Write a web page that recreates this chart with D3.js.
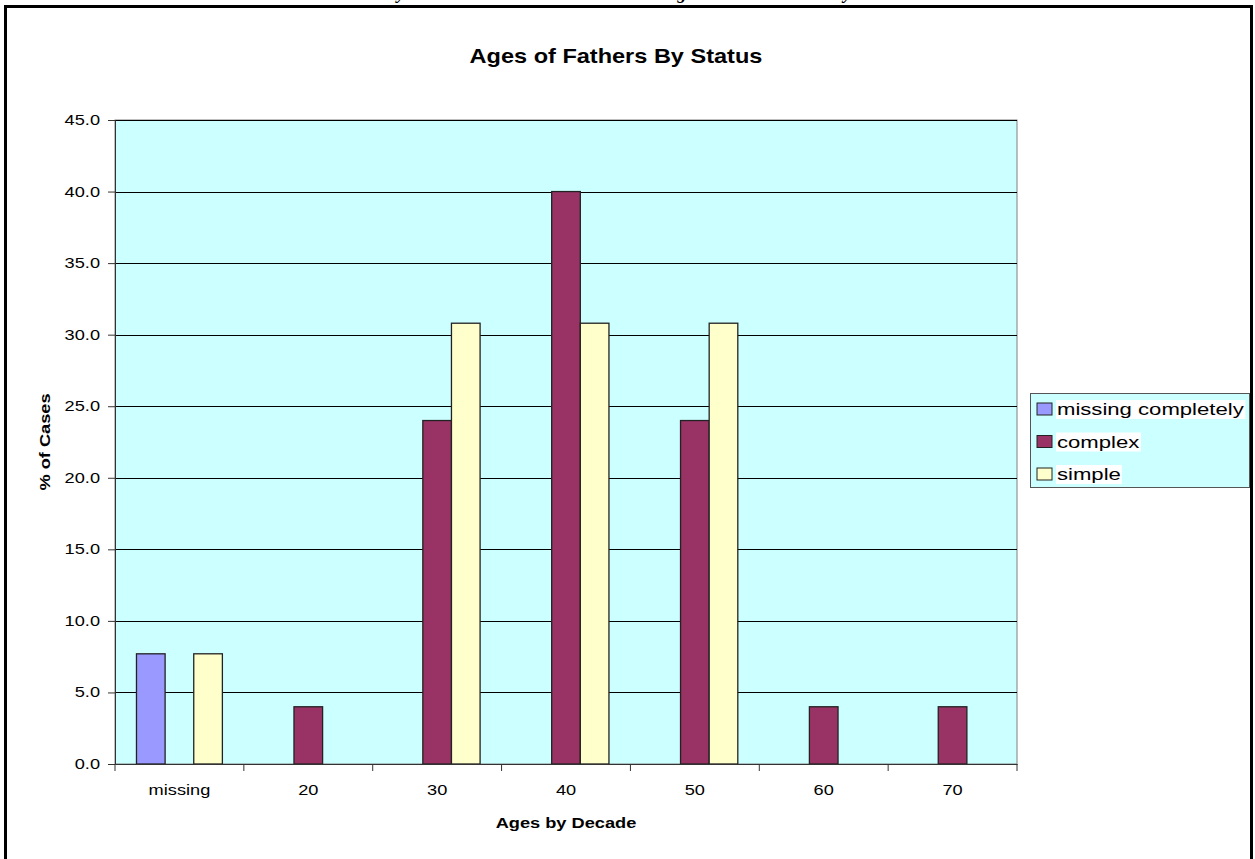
<!DOCTYPE html>
<html>
<head>
<meta charset="utf-8">
<script src="https://cdn.jsdelivr.net/npm/d3@7"></script>
<style>
  body { margin: 0; background: #fff; }
  svg { display: block; font-family: Arial, "Liberation Sans", sans-serif; }
</style>
</head>
<body>
<div id="chart"></div>
<script>
// chart data
const categories = ["missing", "20", "30", "40", "50", "60", "70"];
const seriesNames = ["missing completely", "complex", "simple"];
const missingCompletely = [7.7, 0, 0, 0, 0, 0, 0];
const complex = [0, 4.0, 24.0, 40.0, 24.0, 4.0, 4.0];
const simple = [7.7, 0, 30.8, 30.8, 30.8, 0, 0];
const yTicks = [0, 5, 10, 15, 20, 25, 30, 35, 40, 45];
const colors = ["#9999FF", "#993366", "#FFFFCC"];

const width = 1255, height = 859;
const plot = { left: 115, right: 1017, top: 120, bottom: 764 };

// the original chart was stretched sideways, so widen the text the same way
function stretch(sel, k) {
    sel.each(function () {
        const w = this.getComputedTextLength();
        d3.select(this).attr('textLength', w * k).attr('lengthAdjust', 'spacingAndGlyphs');
    });
}

const svg = d3.select('#chart').append('svg')
    .attr('width', width)
    .attr('height', height);

// caption of the page above the frame, cut off (only descenders show)
const cap = svg.append('text')
    .attr('x', 0).attr('y', -1)
    .style('font-family', '"Liberation Serif", "Times New Roman", serif')
    .style('font-weight', 'bold').style('font-style', 'italic')
    .style('font-size', '18px')
    .text('Summary Data on the Fathers in the Following Chart Then Sorted by Status');
const yPos = cap.node().getStartPositionOfChar(cap.text().indexOf('y')).x;
cap.attr('x', 397 - yPos);

// frame
svg.append('rect')
    .attr('x', 5.5).attr('y', 6.5)
    .attr('width', 1246).attr('height', 870)
    .attr('fill', '#fff').attr('stroke', '#000').attr('stroke-width', 3);

const x = d3.scaleBand().domain(categories).range([plot.left, plot.right]);
const inner = d3.scaleBand().domain(seriesNames)
    .range([0, x.bandwidth()]).paddingOuter(0.75).paddingInner(0);
const y = d3.scaleLinear().domain([0, 45]).range([plot.bottom, plot.top]);

// plot background
svg.append('rect')
    .attr('x', plot.left).attr('y', plot.top)
    .attr('width', plot.right - plot.left).attr('height', plot.bottom - plot.top)
    .attr('fill', '#CCFFFF').attr('stroke', '#808080').attr('stroke-width', 1);

// gridlines
svg.append('g').selectAll('line')
    .data(yTicks.filter(d => d > 0))
    .join('line')
    .attr('x1', plot.left).attr('x2', plot.right)
    .attr('y1', d => Math.round(y(d)) + 0.5).attr('y2', d => Math.round(y(d)) + 0.5)
    .attr('stroke', '#000').attr('stroke-width', 1);

// bars
const seriesData = [missingCompletely, complex, simple];
const bars = [];
seriesData.forEach((vals, s) => {
    vals.forEach((v, i) => {
        if (v > 0) bars.push({ cat: categories[i], series: seriesNames[s], value: v, color: colors[s] });
    });
});
svg.append('g').selectAll('rect')
    .data(bars)
    .join('rect')
    .attr('x', d => x(d.cat) + inner(d.series))
    .attr('y', d => y(d.value))
    .attr('width', inner.bandwidth())
    .attr('height', d => y(0) - y(d.value))
    .attr('fill', d => d.color)
    .attr('stroke', '#222').attr('stroke-width', 1.3);

// y axis
const yAxis = svg.append('g')
    .attr('transform', `translate(${plot.left},0)`)
    .call(d3.axisLeft(y).tickValues(yTicks).tickFormat(d3.format('.1f')).tickSizeOuter(0).tickSize(7).tickPadding(8));
yAxis.select('.domain').attr('stroke', '#333');
yAxis.selectAll('.tick line').attr('stroke', '#333');
yAxis.selectAll('text').attr('font-size', 14).style('font-size', '14px').attr('fill', '#000')
    .call(stretch, 1.3);

// x axis
const xAxis = svg.append('g')
    .attr('transform', `translate(0,${plot.bottom})`)
    .call(d3.axisBottom(x).tickSize(0).tickPadding(21));
xAxis.select('.domain').attr('stroke', '#333');
xAxis.selectAll('text').attr('font-size', 14).style('font-size', '14px').attr('fill', '#000')
    .call(stretch, 1.3);
svg.append('g').selectAll('line')
    .data(d3.range(categories.length + 1))
    .join('line')
    .attr('x1', i => i < categories.length ? x(categories[i]) : plot.right)
    .attr('x2', i => i < categories.length ? x(categories[i]) : plot.right)
    .attr('y1', plot.bottom).attr('y2', plot.bottom + 7)
    .attr('stroke', '#333');

// titles
svg.append('text')
    .attr('x', 616).attr('y', 63)
    .attr('text-anchor', 'middle')
    .style('font-size', '21px').style('font-weight', 'bold')
    .text('Ages of Fathers By Status')
    .call(stretch, 1.12);
svg.append('text')
    .attr('x', 566).attr('y', 828)
    .attr('text-anchor', 'middle')
    .style('font-size', '14px').style('font-weight', 'bold')
    .text('Ages by Decade')
    .call(stretch, 1.3);
svg.append('text')
    .attr('transform', 'translate(50,442) rotate(-90)')
    .attr('text-anchor', 'middle')
    .style('font-size', '14px').style('font-weight', 'bold')
    .text('% of Cases')
    .call(stretch, 1.3);

// legend
const legend = svg.append('g').attr('transform', 'translate(1030,393)');
legend.append('rect')
    .attr('x', 0.5).attr('y', 0.5).attr('width', 219).attr('height', 94)
    .attr('fill', '#CCFFFF').attr('stroke', '#555');
const item = legend.selectAll('g.item')
    .data(seriesNames)
    .join('g').attr('class', 'item')
    .attr('transform', (d, i) => `translate(0,${16 + i * 32.5})`);
item.append('rect')
    .attr('x', 7).attr('y', -6).attr('width', 15).attr('height', 12)
    .attr('fill', (d, i) => colors[i]).attr('stroke', '#222');
const lt = item.append('text')
    .attr('x', 27).attr('y', 6)
    .style('font-size', '17px')
    .text(d => d)
    .call(stretch, 1.3);
lt.each(function () {
    const b = this.getBBox();
    d3.select(this.parentNode).insert('rect', 'text')
        .attr('x', b.x - 1).attr('y', b.y).attr('width', b.width + 2).attr('height', b.height)
        .attr('fill', '#fff');
});
</script>
</body>
</html>
